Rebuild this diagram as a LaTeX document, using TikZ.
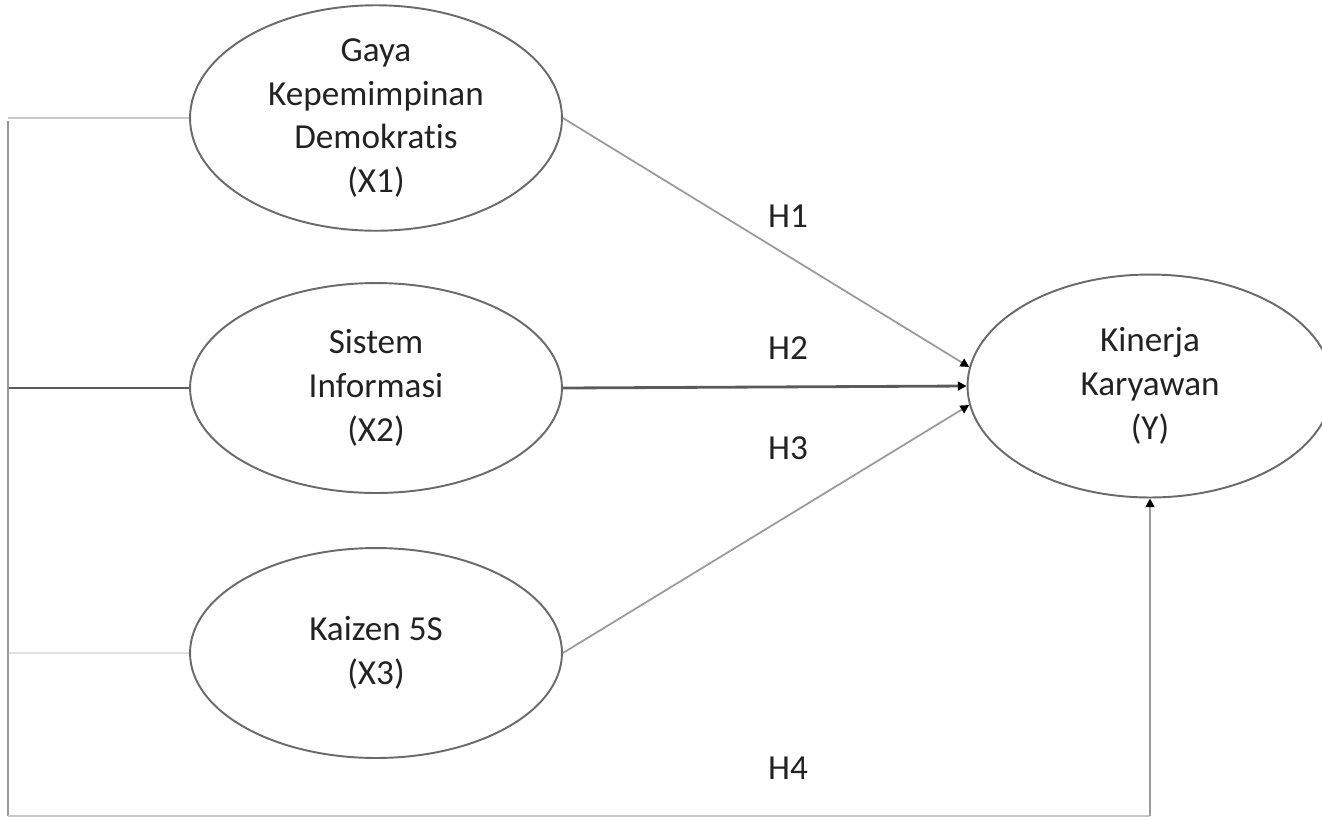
\documentclass[tikz,border=0pt]{standalone}
\usepackage{fontspec}
\setmainfont{Carlito}[Ligatures=NoCommon]
\usetikzlibrary{shapes.geometric,arrows.meta}
\definecolor{txtgray}{HTML}{222222}
\definecolor{ellgray}{HTML}{6A6A6A}
\definecolor{darkline}{HTML}{5A5A5A}
\definecolor{midline}{HTML}{9A9A9A}
\definecolor{lightline}{HTML}{C8C8C8}
\definecolor{paleline}{HTML}{E0E0E0}
\begin{document}
\begin{tikzpicture}[x=0.02cm,y=-0.02cm,
    var/.style={ellipse,draw=ellgray,line width=1.1pt,inner sep=0pt,
        minimum width=7.44cm,minimum height=4.44cm,align=center,
        text=txtgray,font=\fontsize{20}{25}\selectfont},
    link/.style={line width=1pt},
    hyp/.style={link,-{Triangle[length=5pt,width=5pt,color=black]}},
    lbl/.style={text=txtgray,font=\fontsize{20}{25}\selectfont}]
    \useasboundingbox (0,0) rectangle (1322,819);
    % Variables
    \node[var] (x1) at (376,118) {Gaya\\Kepemimpinan\\Demokratis\\(X1)};
    \node[var,minimum height=4.2cm] (x2) at (376,388) {Sistem\\Informasi\\(X2)};
    \node[var,minimum height=4.2cm] (x3) at (376,653) {Kaizen 5S\\(X3)};
    \node[var,minimum width=7.3cm,minimum height=4.46cm] (y) at (1150,386) {Kinerja\\Karyawan\\(Y)};
    % Frame on the left
    \coordinate (tl) at (8,121);
    \coordinate (bl) at (8,816);
    \coordinate (br) at (1150,816);
    \draw[link,lightline] (x1.west) -- (x1.west -| tl);
    \draw[link,darkline,line width=1.6pt] (x2.west) -- (x2.west -| tl);
    \draw[link,paleline] (x3.west) -- (x3.west -| tl);
    \draw[link,midline,line width=1.6pt] (tl) -- (bl);
    \draw[link,lightline] (bl) -- (br);
    % Hypotheses
    \draw[hyp,midline] (x1.east) -- (y.174);
    \draw[hyp,darkline,line width=1.6pt] (x2.east) -- (y.west);
    \draw[hyp,midline] (x3.east) -- (y.186);
    \draw[hyp,midline,line width=1.4pt] (br) -- (y.south);
    \node[lbl] (h1) at (788,216) {H1};
    \node[lbl] (h2) at (788,348) {H2};
    \node[lbl] (h3) at (788,448) {H3};
    \node[lbl] (h4) at (788,768) {H4};
\end{tikzpicture}
\end{document}
